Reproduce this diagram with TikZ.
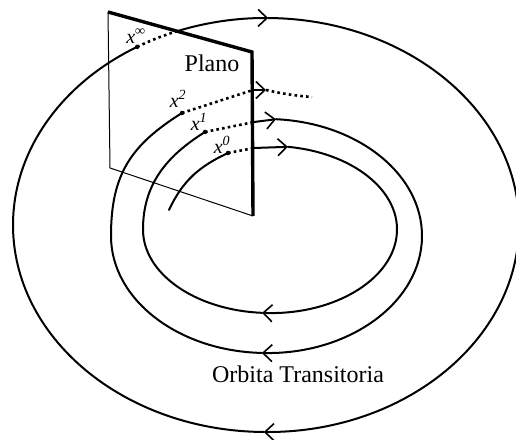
\documentclass[tikz,border=0pt]{standalone}
\usepackage{fontspec}
\setmainfont{Liberation Serif}
\usetikzlibrary{positioning, arrows.meta}

\begin{document}
\begin{tikzpicture}[
  x=1pt, y=1pt,
  orbit/.style={line width=2pt, line cap=round, line join=round},
  tramo/.style={line width=2.6pt, dash pattern=on 2.6pt off 3.2pt},
  flecha/.style={-{Straight Barb[length=9pt,width=17pt,line width=1.6pt]}},
  borde/.style={line width=1pt},
  bordeg/.style={line width=3.4pt, line join=miter},
  punto/.style={circle, fill, inner sep=0pt, minimum size=4.5pt},
  etiq/.style={font=\fontsize{20}{22}\selectfont\itshape, inner sep=0pt},
  texto/.style={font=\fontsize{24}{27}\selectfont, inner sep=0pt},
]
\useasboundingbox (0,0) rectangle (516,439);

% plano de Poincare
\coordinate (tl) at (108,427);
\coordinate (tr) at (252,387);
\coordinate (br) at (253,223);
\coordinate (bl) at (110,271);
\draw[borde]  (tl) -- (bl) -- (br);
\draw[bordeg] (tl) -- (tr) -- (br);

% vuelta 0
\coordinate (c0) at (270,209.5);
\coordinate (s0) at (169,229);
\coordinate (x0) at (228,286);
\coordinate (p0) at (254,291);
\path (c0) ++(81.9:127 and 83.5)  coordinate (a0)
      (c0) ++(-93.6:127 and 83.5) coordinate (b0)
      (c0) ++(-180:127 and 83.5)  coordinate (l0);
\draw[orbit] (s0) to[out=65, in=205] (x0);
\draw[tramo] (x0) -- (p0);
\draw[orbit, flecha] (p0) -- (a0);
\draw[orbit, flecha] (a0) arc[start angle=81.9, end angle=-93.6, x radius=127, y radius=83.5];
\draw[orbit] (b0) arc[start angle=-93.6, end angle=-180, x radius=127, y radius=83.5];

% vuelta 1
\coordinate (c1) at (266.5,203);
\coordinate (x1) at (205,307);
\coordinate (p1) at (254,317);
\path (c1) ++(86.5:155.5 and 117)  coordinate (a1)
      (c1) ++(-91.7:155.5 and 117) coordinate (b1)
      (c1) ++(-180:155.5 and 117)  coordinate (l1);
\draw[orbit] (l0) to[out=90, in=212] (x1);
\draw[tramo] (x1) -- (p1);
\draw[orbit, flecha] (p1) -- (a1);
\draw[orbit, flecha] (a1) arc[start angle=86.5, end angle=-91.7, x radius=155.5, y radius=117];
\draw[orbit] (b1) arc[start angle=-91.7, end angle=-180, x radius=155.5, y radius=117];

% vuelta 2
\coordinate (x2) at (182,326);
\coordinate (p2) at (253,349);
\coordinate (a2) at (266,349);
\coordinate (e2) at (312,342);
\draw[orbit] (l1) to[out=90, in=212, looseness=1.1] (x2);
\draw[tramo] (x2) -- (p2);
\draw[orbit, flecha] (p2) -- (a2);
\draw[tramo] (a2) to[bend right=4] (e2);

% ciclo limite
\coordinate (c) at (266,214);
\path (c) ++(110.6:253 and 207) coordinate (pinf)
      (c) ++(120.6:253 and 207) coordinate (xinf)
      (c) ++(89.5:253 and 207)  coordinate (ainf)
      (c) ++(-90.5:253 and 207) coordinate (binf);
\draw[orbit, flecha] (pinf) arc[start angle=110.6, end angle=89.5, x radius=253, y radius=207];
\draw[orbit, flecha] (ainf) arc[start angle=89.5, end angle=-90.5, x radius=253, y radius=207];
\draw[orbit] (binf) arc[start angle=-90.5, end angle=-239.4, x radius=253, y radius=207];
\draw[tramo] (xinf) arc[start angle=120.6, end angle=110.6, x radius=253, y radius=207];

\foreach \p in {x0, x1, x2, xinf}
  \node[punto] at (\p) {};

% etiquetas
\node[etiq] (lx0)   at (222,294) {x\textsuperscript{0}};
\node[etiq] (lx1)   at (199,317) {x\textsuperscript{1}};
\node[etiq] (lx2)   at (178,340) {x\textsuperscript{2}};
\node[etiq] (lxinf) at (136,403) {x\textsuperscript{∞}};
\node[texto, anchor=base] (plano) at (212,367) {Plano};
\node[texto, anchor=base] (orbtr) at (298,57) {Orbita Transitoria};
\end{tikzpicture}
\end{document}
